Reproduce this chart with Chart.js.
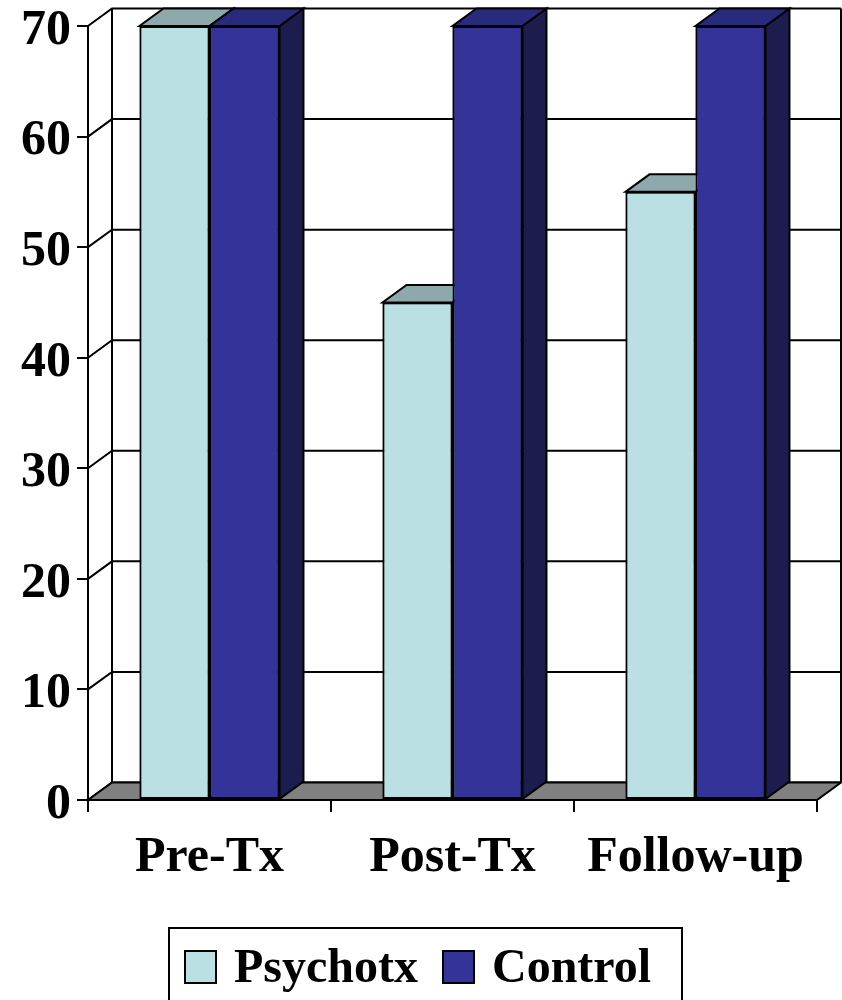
<!DOCTYPE html>
<html><head><meta charset="utf-8">
<script src="https://cdn.jsdelivr.net/npm/chart.js@4.4.0/dist/chart.umd.min.js"></script>
<style>html,body{margin:0;padding:0;background:#fff;overflow:hidden}canvas{display:block}</style>
</head><body>
<canvas id="c" width="842" height="1000"></canvas>
<script>
const categories = ['Pre-Tx', 'Post-Tx', 'Follow-up'];
const seriesNames = ['Psychotx', 'Control'];
const psychotxValues = [70, 45, 55];
const controlValues = [70, 70, 70];
const yTickValues = [0, 10, 20, 30, 40, 50, 60, 70];

const FONT = "'Liberation Serif', 'Times New Roman', serif";
const DX = 24, DY = -17.5;

function poly(ctx, pts, fill) {
  ctx.beginPath();
  ctx.moveTo(pts[0][0], pts[0][1]);
  for (let i = 1; i < pts.length; i++) ctx.lineTo(pts[i][0], pts[i][1]);
  ctx.closePath();
  if (fill) { ctx.fillStyle = fill; ctx.fill(); }
  ctx.stroke();
}

const threeD = {
  id: 'threeD',
  beforeDatasetsDraw(chart) {
    const ctx = chart.ctx, a = chart.chartArea, ys = chart.scales.y;
    const base = ys.getPixelForValue(0);
    ctx.save();
    ctx.strokeStyle = '#000';
    ctx.lineWidth = 2;
    ctx.lineJoin = 'miter';
    // back wall grid lines & side wall diagonals
    ys.ticks.forEach(t => {
      const py = ys.getPixelForValue(t.value);
      ctx.beginPath();
      ctx.moveTo(a.left, py);
      ctx.lineTo(a.left + DX, py + DY);
      ctx.lineTo(a.right + DX, py + DY);
      ctx.stroke();
    });
    const topY = ys.getPixelForValue(ys.max);
    ctx.beginPath();
    ctx.moveTo(a.left + DX, topY + DY); ctx.lineTo(a.left + DX, base + DY);
    ctx.moveTo(a.right + DX, topY + DY); ctx.lineTo(a.right + DX, base + DY);
    ctx.stroke();
    // floor
    poly(ctx, [[a.left, base], [a.right, base], [a.right + DX, base + DY], [a.left + DX, base + DY]], '#808080');
    ctx.restore();
  },
  afterDatasetsDraw(chart) {
    const ctx = chart.ctx;
    const n = chart.data.labels.length;
    ctx.save();
    ctx.strokeStyle = '#000';
    ctx.lineWidth = 2;
    for (let i = 0; i < n; i++) {
      chart.data.datasets.forEach((ds, di) => {
        const meta = chart.getDatasetMeta(di);
        const el = meta.data[i];
        const p = el.getProps(['x', 'y', 'base', 'width'], true);
        const l = p.x - p.width / 2, r = p.x + p.width / 2, t = p.y, b = p.base;
        poly(ctx, [[r, t], [r + DX, t + DY], [r + DX, b + DY], [r, b]], ds.sideColor);
        poly(ctx, [[l, t], [r, t], [r + DX, t + DY], [l + DX, t + DY]], ds.topColor);
        el.draw(ctx);
        ctx.strokeStyle = '#000';
        ctx.lineWidth = 2;
      });
    }
    ctx.restore();
  },
  afterDraw(chart) {
    const ctx = chart.ctx;
    ctx.save();
    ctx.strokeStyle = '#000';
    ctx.lineWidth = 2;
    ctx.strokeRect(169, 928, 513, 90);
    ctx.font = 'bold 48px ' + FONT;
    ctx.textBaseline = 'alphabetic';
    ctx.textAlign = 'left';
    let x = 185;
    chart.data.datasets.forEach(ds => {
      ctx.fillStyle = ds.backgroundColor;
      ctx.fillRect(x, 951, 31, 32);
      ctx.strokeRect(x, 951, 31, 32);
      x += 31 + 18;
      ctx.fillStyle = '#000';
      ctx.fillText(ds.label, x, 982);
      x += ctx.measureText(ds.label).width + 25;
    });
    ctx.restore();
  }
};

new Chart(document.getElementById('c'), {
  type: 'bar',
  data: {
    labels: categories,
    datasets: [
      { label: seriesNames[0], data: psychotxValues, backgroundColor: '#BBE0E3', topColor: '#8DA9AB', sideColor: '#7E9799',
        borderColor: '#000', borderWidth: 2, borderSkipped: false, barPercentage: 1, categoryPercentage: 0.576 },
      { label: seriesNames[1], data: controlValues, backgroundColor: '#333399', topColor: '#2A2A7C', sideColor: '#1C1C4E',
        borderColor: '#000', borderWidth: 2, borderSkipped: false, barPercentage: 1, categoryPercentage: 0.576 }
    ]
  },
  options: {
    responsive: false,
    animation: false,
    devicePixelRatio: 1,
    layout: { padding: { top: 26, right: 25, left: 0, bottom: 0 } },
    plugins: { legend: { display: false }, tooltip: { enabled: false } },
    scales: {
      x: {
        offset: true,
        grid: { offset: true, drawOnChartArea: false, drawTicks: true, tickLength: 12, color: '#000', lineWidth: 2 },
        border: { display: true, color: '#000', width: 2 },
        ticks: { color: '#000', font: { family: FONT, size: 50, weight: 'bold' }, padding: 16, maxRotation: 0, autoSkip: false },
        afterFit(s) { s.height = 200; s.paddingLeft = 0; s.paddingRight = 0; }
      },
      y: {
        min: 0, max: 70,
        afterBuildTicks(s) { s.ticks = yTickValues.map(v => ({ value: v })); },
        grid: { drawOnChartArea: false, drawTicks: true, tickLength: 11, color: '#000', lineWidth: 2 },
        border: { display: true, color: '#000', width: 2 },
        ticks: { color: '#000', font: { family: FONT, size: 50, weight: 'bold' }, padding: 6, labelOffset: 5 },
        afterFit(s) { s.width = 88; s.paddingTop = 0; s.paddingBottom = 0; }
      }
    }
  },
  plugins: [threeD]
});
</script>
</body></html>
